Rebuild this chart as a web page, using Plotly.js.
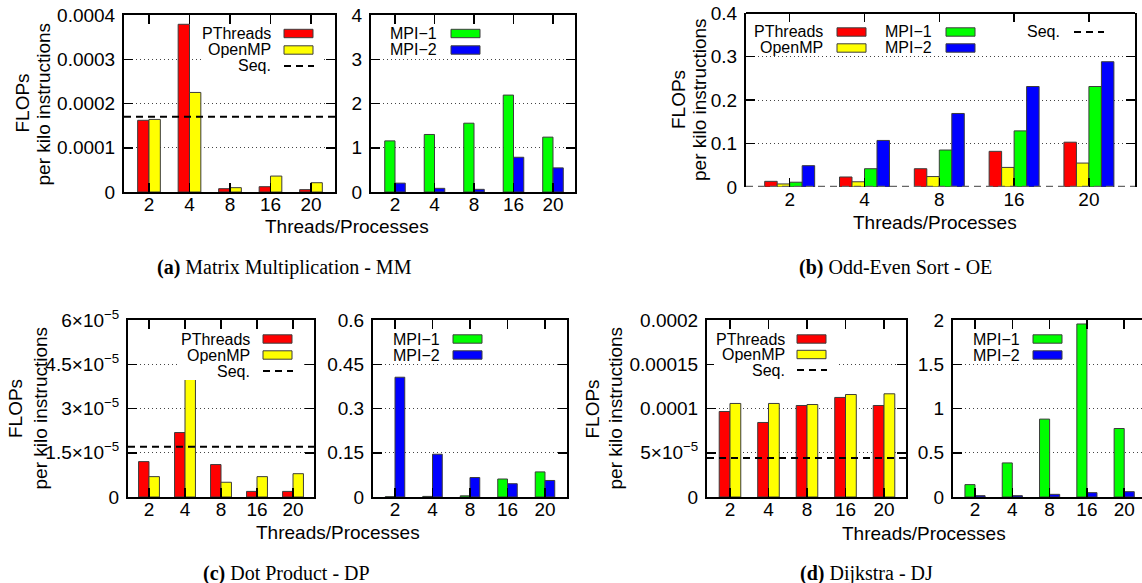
<!DOCTYPE html>
<html><head><meta charset="utf-8">
<script src="https://cdn.plot.ly/plotly-3.0.1.min.js"></script>
<style>body{margin:0;background:#fff}#chart{width:1142px;height:583px}</style>
</head><body><div id="chart"></div>
<script>
// ---------- data ----------
const categories = ["2", "4", "8", "16", "20"];

// (a) Matrix Multiplication - MM
const mmPThreads = [1.62e-4, 3.79e-4, 7.5e-6, 1.2e-5, 5.3e-6];
const mmOpenMP   = [1.64e-4, 2.25e-4, 9.8e-6, 3.6e-5, 2.1e-5];
const mmSeq      = 1.70e-4;
const mmMPI1     = [1.155, 1.30, 1.555, 2.19, 1.24];
const mmMPI2     = [0.20, 0.083, 0.06, 0.785, 0.545];

// (b) Odd-Even Sort - OE
const oePThreads = [0.013, 0.023, 0.042, 0.082, 0.103];
const oeOpenMP   = [0.007, 0.012, 0.024, 0.045, 0.055];
const oeMPI1     = [0.011, 0.042, 0.085, 0.129, 0.231];
const oeMPI2     = [0.049, 0.107, 0.169, 0.231, 0.288];
const oeSeq      = 0.0004;

// (c) Dot Product - DP
const dpPThreads = [1.2e-5, 2.185e-5, 1.1e-5, 1.9e-6, 1.9e-6];
const dpOpenMP   = [6.9e-6, 3.985e-5, 5.0e-6, 6.9e-6, 7.9e-6];
const dpSeq      = 1.7e-5;
const dpMPI1     = [0.001, 0.002, 0.004, 0.061, 0.085];
const dpMPI2     = [0.406, 0.145, 0.066, 0.045, 0.056];

// (d) Dijkstra - DJ
const djPThreads = [9.66e-5, 8.42e-5, 1.034e-4, 1.125e-4, 1.034e-4];
const djOpenMP   = [1.057e-4, 1.057e-4, 1.045e-4, 1.158e-4, 1.166e-4];
const djSeq      = 4.42e-5;
const djMPI1     = [0.14, 0.385, 0.88, 1.955, 0.774];
const djMPI2     = [0.015, 0.015, 0.03, 0.049, 0.06];

// tick values / labels
const mmThrTickVals = [0, 1e-4, 2e-4, 3e-4, 4e-4];
const mmThrTickText = ["0", "0.0001", "0.0002", "0.0003", "0.0004"];
const mmMpiTickVals = [0, 1, 2, 3, 4];
const mmMpiTickText = ["0", "1", "2", "3", "4"];
const oeTickVals = [0, 0.1, 0.2, 0.3, 0.4];
const oeTickText = ["0", "0.1", "0.2", "0.3", "0.4"];
const dpThrTickVals = [0, 1.5e-5, 3e-5, 4.5e-5, 6e-5];
const dpThrTickText = ["0", "1.5×10<sup>−5</sup>", "3×10<sup>−5</sup>", "4.5×10<sup>−5</sup>", "6×10<sup>−5</sup>"];
const dpMpiTickVals = [0, 0.15, 0.3, 0.45, 0.6];
const dpMpiTickText = ["0", "0.15", "0.3", "0.45", "0.6"];
const djThrTickVals = [0, 5e-5, 1e-4, 1.5e-4, 2e-4];
const djThrTickText = ["0", "5×10<sup>−5</sup>", "0.0001", "0.00015", "0.0002"];
const djMpiTickVals = [0, 0.5, 1, 1.5, 2];
const djMpiTickText = ["0", "0.5", "1", "1.5", "2"];

const seriesNames = {pt: "PThreads", omp: "OpenMP", m1: "MPI\u22121", m2: "MPI\u22122", seq: "Seq."};

// ---------- styling / layout ----------
const W = 1142, H = 583;
const FONT = 'Liberation Sans, Arial, Helvetica, sans-serif';
const SERIF = 'Liberation Serif, Times New Roman, serif';
const COL = {pt: '#ff0000', omp: '#ffff00', m1: '#00ff00', m2: '#0000ff'};
const px = v => v / W;
const py = v => 1 - v / H;

const panels = [
  {x: [124, 335], y: [15, 192], xr: [-0.617, 4.593], yr: [0, 4e-4], tv: mmThrTickVals, tt: mmThrTickText,
   series: [[mmPThreads, 'pt'], [mmOpenMP, 'omp']], w: 0.28, seq: mmSeq},
  {x: [371, 575], y: [15, 192], xr: [-0.608, 4.557], yr: [0, 4], tv: mmMpiTickVals, tt: mmMpiTickText,
   series: [[mmMPI1, 'm1'], [mmMPI2, 'm2']], w: 0.26},
  {x: [746, 1135], y: [13, 187], xr: [-0.584, 4.616], yr: [0, 0.4], tv: oeTickVals, tt: oeTickText,
   series: [[oePThreads, 'pt'], [oeOpenMP, 'omp'], [oeMPI1, 'm1'], [oeMPI2, 'm2']], w: 0.167, seq: oeSeq,
   seqColor: '#666', noBottom: true},
  {x: [128, 314], y: [320, 497], xr: [-0.583, 4.583], yr: [0, 6e-5], tv: dpThrTickVals, tt: dpThrTickText,
   series: [[dpPThreads, 'pt'], [dpOpenMP, 'omp']], w: 0.29, seq: dpSeq},
  {x: [373, 567], y: [320, 497], xr: [-0.587, 4.587], yr: [0, 0.6], tv: dpMpiTickVals, tt: dpMpiTickText,
   series: [[dpMPI1, 'm1'], [dpMPI2, 'm2']], w: 0.26},
  {x: [707, 906], y: [320, 497], xr: [-0.597, 4.571], yr: [0, 2e-4], tv: djThrTickVals, tt: djThrTickText,
   series: [[djPThreads, 'pt'], [djOpenMP, 'omp']], w: 0.28, seq: djSeq},
  {x: [953, 1142], y: [320, 497], xr: [-0.59, 4.477], yr: [0, 2], tv: djMpiTickVals, tt: djMpiTickText,
   series: [[djMPI1, 'm1'], [djMPI2, 'm2']], w: 0.27, noRight: true}
];

const data = [];
const layout = {
  width: W, height: H, margin: {l: 0, r: 0, t: 0, b: 0},
  paper_bgcolor: '#fff', plot_bgcolor: '#fff',
  barmode: 'overlay', showlegend: false,
  font: {family: FONT, size: 19, color: '#000'},
  shapes: [], annotations: []
};

panels.forEach((p, i) => {
  const n = i === 0 ? '' : String(i + 1);
  const xa = 'x' + n, ya = 'y' + n;
  layout['xaxis' + n] = {
    type: 'category', categoryorder: 'array', categoryarray: categories,
    domain: [px(p.x[0]), px(p.x[1])], range: p.xr, anchor: ya,
    showline: true, linecolor: p.noBottom ? 'rgba(0,0,0,0)' : '#000', linewidth: 2, mirror: 'ticks',
    ticks: 'inside', ticklen: 9, tickwidth: 1.5, tickcolor: '#000',
    showgrid: false, zeroline: false, fixedrange: true,
    tickfont: {family: FONT, size: 19, color: '#000'}, ticklabelstandoff: -6
  };
  layout['yaxis' + n] = {
    domain: [py(p.y[1]), py(p.y[0])], range: p.yr, anchor: xa,
    tickvals: p.tv, ticktext: p.tt,
    showline: true, linecolor: '#000', linewidth: 2, mirror: p.noRight ? false : 'ticks',
    ticks: 'inside', ticklen: 9, tickwidth: 1.5, tickcolor: '#000',
    showgrid: true, gridcolor: '#444', gridwidth: 1, griddash: '1px,3px',
    zeroline: false, fixedrange: true,
    tickfont: {family: FONT, size: 19, color: '#000'}, ticklabelstandoff: 3
  };
  if (p.noBottom) {
    // frame: top border drawn solid, bottom edge left to the dashed Seq line
    layout.shapes.push({type: 'line', xref: xa + ' domain', yref: ya + ' domain', x0: 0, x1: 1, y0: 1, y1: 1,
      line: {color: '#000', width: 2}, layer: 'above'});
  }
  const k = p.series.length;
  p.series.forEach((s, j) => {
    data.push({
      type: 'bar', x: categories, y: s[0], xaxis: xa, yaxis: ya,
      width: p.w, offset: -k * p.w / 2 + j * p.w,
      marker: {color: COL[s[1]], line: {color: '#3c3c3c', width: 1}},
      name: seriesNames[s[1]], hoverinfo: 'skip'
    });
  });
  if (p.seq !== undefined) {
    layout.shapes.push({type: 'line', xref: xa + ' domain', yref: ya, x0: 0, x1: 1, y0: p.seq, y1: p.seq,
      line: {color: p.seqColor || '#000', width: 2, dash: '7px,5px'}, layer: 'above'});
  }
});

// ---------- legends ----------
function legendBox(x0, x1, y0, y1) {
  layout.shapes.push({type: 'rect', xref: 'paper', yref: 'paper', x0: px(x0), x1: px(x1), y0: py(y1), y1: py(y0),
    fillcolor: '#fff', line: {width: 0}, layer: 'above'});
}
function legendItem(textRight, swX, yc, key) {
  layout.annotations.push({xref: 'paper', yref: 'paper', x: px(textRight), y: py(yc), xanchor: 'right', yanchor: 'middle',
    text: seriesNames[key], showarrow: false, font: {family: FONT, size: 16, color: '#000'}});
  if (key === 'seq') {
    layout.shapes.push({type: 'line', xref: 'paper', yref: 'paper', x0: px(swX), x1: px(swX + 30), y0: py(yc), y1: py(yc),
      line: {color: '#000', width: 2, dash: '7px,5px'}, layer: 'above'});
  } else {
    layout.shapes.push({type: 'rect', xref: 'paper', yref: 'paper', x0: px(swX), x1: px(swX + 29), y0: py(yc + 4.2), y1: py(yc - 4.2),
      fillcolor: COL[key], line: {color: '#3c3c3c', width: 1}, layer: 'above'});
  }
}
legendBox(203, 324, 25, 74);
legendItem(273, 284, 33.5, 'pt'); legendItem(273, 284, 50, 'omp'); legendItem(273, 284, 66, 'seq');
legendItem(439, 451, 33.5, 'm1'); legendItem(439, 451, 50, 'm2');
legendItem(825, 837, 32, 'pt'); legendItem(825, 837, 48, 'omp');
legendItem(934, 946, 32, 'm1'); legendItem(934, 946, 48, 'm2');
legendItem(1062, 1074, 32, 'seq');
legendBox(180, 304, 330, 380);
legendItem(252, 263, 339, 'pt'); legendItem(252, 263, 355, 'omp'); legendItem(252, 263, 371, 'seq');
legendItem(442, 453, 339, 'm1'); legendItem(442, 453, 355, 'm2');
legendBox(714, 837, 330, 379);
legendItem(787, 797, 339, 'pt'); legendItem(787, 797, 354.5, 'omp'); legendItem(787, 797, 370, 'seq');
legendItem(1022, 1033, 339, 'm1'); legendItem(1022, 1033, 355, 'm2');

// ---------- titles ----------
function ann(x, y, text, opts) {
  layout.annotations.push(Object.assign({xref: 'paper', yref: 'paper', x: px(x), y: py(y), xanchor: 'center', yanchor: 'middle',
    text: text, showarrow: false, font: {family: FONT, size: 19, color: '#000'}}, opts || {}));
}
// y titles
[[22, 43, 103.5], [678, 699, 100], [15.5, 40, 408.5], [592, 615, 408.5]].forEach(t => {
  ann(t[0], t[2], 'FLOPs', {textangle: -90});
  ann(t[1], t[2], 'per kilo instructions', {textangle: -90});
});
// x titles
ann(346.5, 226, 'Threads/Processes');
ann(935, 222, 'Threads/Processes');
ann(338, 532, 'Threads/Processes');
ann(923.5, 533, 'Threads/Processes');
// captions
const capFont = {family: SERIF, size: 20, color: '#000'};
ann(284, 267, '<b>(a)</b> Matrix Multiplication - MM', {font: capFont});
ann(895, 267, '<b>(b)</b> Odd-Even Sort - OE', {font: capFont});
ann(286, 573, '<b>(c)</b> Dot Product - DP', {font: capFont});
ann(866, 573, '<b>(d)</b> Dijkstra - DJ', {font: capFont});

Plotly.newPlot('chart', data, layout, {staticPlot: true, displayModeBar: false});
</script>
</body></html>
